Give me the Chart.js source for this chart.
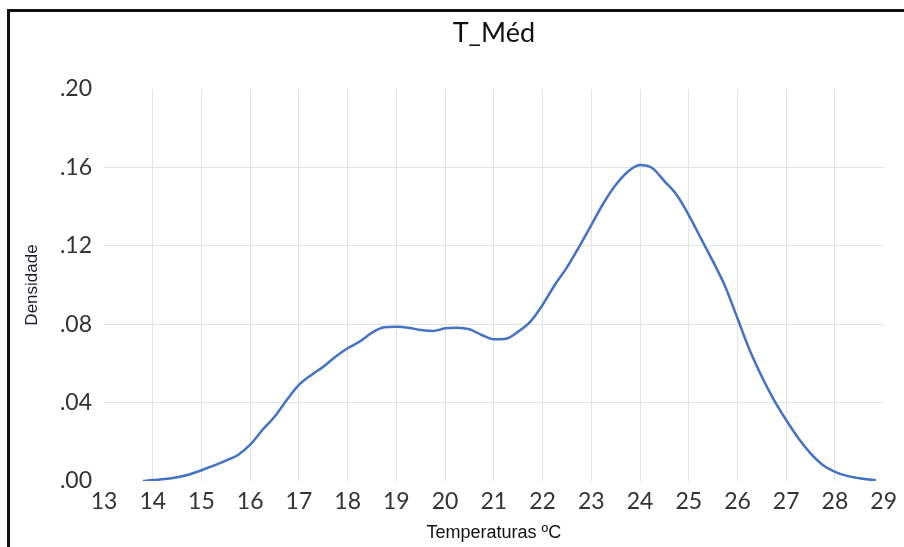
<!DOCTYPE html>
<html>
<head>
<meta charset="utf-8">
<script src="https://cdn.jsdelivr.net/npm/chart.js@4"></script>
<style>
  html, body { margin: 0; padding: 0; background: #fff; }
  #wrap { position: relative; width: 904px; height: 547px; }
</style>
</head>
<body>
<div id="wrap"><canvas id="kde" width="904" height="547"></canvas></div>
<script>
// temperatures (ºC) and density
const temps = [13.8, 14, 14.25, 14.5, 14.75, 15, 15.25, 15.5, 15.75, 16, 16.25, 16.5, 16.75,
  17, 17.25, 17.5, 17.75, 18, 18.25, 18.5, 18.75, 19, 19.25, 19.5, 19.75, 20, 20.25, 20.5,
  20.75, 21, 21.25, 21.5, 21.75, 22, 22.25, 22.5, 22.75, 23, 23.25, 23.5, 23.75, 24, 24.25,
  24.5, 24.75, 25, 25.25, 25.5, 25.75, 26, 26.25, 26.5, 26.75, 27, 27.25, 27.5, 27.75, 28,
  28.25, 28.5, 28.75, 28.84];
const density = [0.0000, 0.0005, 0.0010, 0.0019, 0.0033, 0.0055, 0.0078, 0.0104, 0.0133, 0.0185,
  0.0260, 0.0328, 0.0413, 0.0490, 0.0540, 0.0583, 0.0634, 0.0677, 0.0712, 0.0757, 0.0784,
  0.0787, 0.0782, 0.0770, 0.0765, 0.0779, 0.0782, 0.0774, 0.0745, 0.0723, 0.0726, 0.0762,
  0.0813, 0.0898, 0.1000, 0.1090, 0.1195, 0.1306, 0.1417, 0.1510, 0.1578, 0.1612, 0.1597,
  0.1530, 0.1460, 0.1357, 0.1238, 0.1119, 0.0991, 0.0830, 0.0668, 0.0532, 0.0413, 0.0311,
  0.0218, 0.0141, 0.0082, 0.0047, 0.0026, 0.0014, 0.0006, 0.0004];
const xTicks = [13, 14, 15, 16, 17, 18, 19, 20, 21, 22, 23, 24, 25, 26, 27, 28, 29];
const yTicks = [0, 0.04, 0.08, 0.12, 0.16, 0.20];

const points = temps.map((t, i) => ({ x: t, y: density[i] }));

// frame + title drawn over the chart area centre
const framePlugin = {
  id: 'frame',
  beforeDraw(chart) {
    const ctx = chart.ctx;
    ctx.save();
    ctx.fillStyle = '#fff';
    ctx.fillRect(0, 0, chart.width, chart.height);
    ctx.fillStyle = '#111';
    ctx.fillRect(8, 9, chart.width - 8, 3);
    ctx.fillRect(7, 9, 3, chart.height - 9);
    ctx.restore();
  },
  afterDraw(chart) {
    const ctx = chart.ctx;
    const area = chart.chartArea;
    ctx.save();
    ctx.font = '27px Lato, "Open Sans", sans-serif';
    ctx.fillStyle = '#111';
    ctx.textAlign = 'center';
    ctx.textBaseline = 'middle';
    ctx.fillText('T_Méd', (area.left + area.right) / 2, 33);
    ctx.restore();
  }
};

const edgeGrid = (ctx, lo, hi) =>
  (ctx.tick && (Math.abs(ctx.tick.value - lo) < 1e-9 || Math.abs(ctx.tick.value - hi) < 1e-9))
    ? 'rgba(0,0,0,0)' : '#e4e4e4';

new Chart(document.getElementById('kde'), {
  type: 'line',
  data: {
    datasets: [{
      data: points,
      borderColor: '#4472c4',
      borderWidth: 2.5,
      pointRadius: 0,
      tension: 0.4,
      cubicInterpolationMode: 'monotone',
      fill: false
    }]
  },
  options: {
    responsive: false,
    animation: false,
    layout: { padding: { top: 89, right: 15, left: 0, bottom: 0 } },
    plugins: { legend: { display: false }, title: { display: false }, tooltip: { enabled: false } },
    scales: {
      x: {
        type: 'linear',
        min: 13,
        max: 29,
        afterBuildTicks: (scale) => { scale.ticks = xTicks.map(v => ({ value: v })); },
        afterFit: (scale) => { scale.height = 66; },
        border: { display: false },
        grid: { color: (c) => edgeGrid(c, 13, 29), lineWidth: 1, drawTicks: false },
        ticks: {
          padding: 7,
          color: '#333',
          font: { family: 'Lato, "Open Sans", sans-serif', size: 23 },
          maxRotation: 0,
          autoSkip: false
        },
        title: {
          display: true,
          text: 'Temperaturas ºC',
          color: '#111',
          font: { family: '"Liberation Sans", Arial, sans-serif', size: 18 },
          padding: { top: 2, bottom: 3 }
        }
      },
      y: {
        min: 0,
        max: 0.2,
        afterBuildTicks: (scale) => { scale.ticks = yTicks.map(v => ({ value: v })); },
        afterFit: (scale) => { scale.width = 104; },
        border: { display: false },
        grid: { color: (c) => edgeGrid(c, 0, 0.2), lineWidth: 1, drawTicks: false },
        ticks: {
          padding: 12,
          color: '#333',
          font: { family: 'Lato, "Open Sans", sans-serif', size: 23 },
          callback: (v) => v.toFixed(2).replace(/^0/, '')
        },
        title: {
          display: true,
          text: 'Densidade',
          color: '#1a1a33',
          font: { family: '"Liberation Sans", Arial, sans-serif', size: 17 },
          padding: { top: 22, bottom: 0 }
        }
      }
    }
  },
  plugins: [framePlugin]
});
</script>
</body>
</html>
